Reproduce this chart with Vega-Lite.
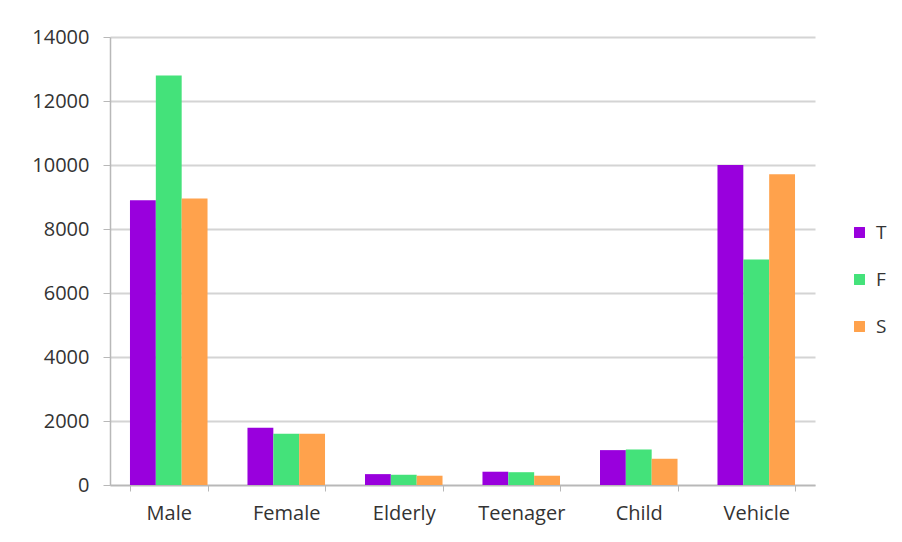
{
  "$schema": "https://vega.github.io/schema/vega-lite/v6.json",
  "autosize": {"type": "none"},
  "padding": {"left": 110, "top": 37, "right": 87, "bottom": 57},
  "width": 705,
  "height": 448,
  "background": "white",
  "data": {
    "values": [
      {"category": "Male", "series": "T", "value": 8900},
      {"category": "Male", "series": "F", "value": 12800},
      {"category": "Male", "series": "S", "value": 8950},
      {"category": "Female", "series": "T", "value": 1790},
      {"category": "Female", "series": "F", "value": 1600},
      {"category": "Female", "series": "S", "value": 1600},
      {"category": "Elderly", "series": "T", "value": 340},
      {"category": "Elderly", "series": "F", "value": 320},
      {"category": "Elderly", "series": "S", "value": 290},
      {"category": "Teenager", "series": "T", "value": 415},
      {"category": "Teenager", "series": "F", "value": 400},
      {"category": "Teenager", "series": "S", "value": 290},
      {"category": "Child", "series": "T", "value": 1090},
      {"category": "Child", "series": "F", "value": 1110},
      {"category": "Child", "series": "S", "value": 820},
      {"category": "Vehicle", "series": "T", "value": 10000},
      {"category": "Vehicle", "series": "F", "value": 7050},
      {"category": "Vehicle", "series": "S", "value": 9710}
    ]
  },
  "mark": {"type": "bar"},
  "encoding": {
    "x": {
      "field": "category",
      "type": "nominal",
      "sort": ["Male", "Female", "Elderly", "Teenager", "Child", "Vehicle"],
      "scale": {"paddingInner": 0.34, "paddingOuter": 0.17},
      "axis": {
        "title": null,
        "labelAngle": 0,
        "tickBand": "extent",
        "tickSize": 6,
        "tickColor": "#b8b8b8",
        "domainColor": "#b8b8b8",
        "domainWidth": 1.5,
        "labelFont": "Open Sans",
        "labelFontSize": 20,
        "labelColor": "#333333",
        "labelPadding": 12,
        "grid": false
      }
    },
    "xOffset": {
      "field": "series",
      "type": "nominal",
      "sort": ["T", "F", "S"],
      "scale": {"paddingInner": 0, "paddingOuter": 0}
    },
    "y": {
      "field": "value",
      "type": "quantitative",
      "scale": {"domain": [0, 14000], "nice": false},
      "axis": {
        "title": null,
        "values": [0, 2000, 4000, 6000, 8000, 10000, 12000, 14000],
        "format": "d",
        "tickSize": 7,
        "tickColor": "#b8b8b8",
        "domainColor": "#b8b8b8",
        "domainWidth": 1.5,
        "gridColor": "#d4d4d4",
        "gridWidth": 2,
        "labelFont": "Open Sans",
        "labelFontSize": 20,
        "labelColor": "#333333",
        "labelPadding": 14
      }
    },
    "color": {
      "field": "series",
      "type": "nominal",
      "sort": ["T", "F", "S"],
      "scale": {"domain": ["T", "F", "S"], "range": ["#9900DD", "#44E27A", "#FFA24C"]},
      "legend": {
        "title": null,
        "orient": "none",
        "legendX": 740,
        "legendY": 186,
        "symbolType": "square",
        "symbolSize": 120,
        "symbolStrokeWidth": 0,
        "labelFont": "Open Sans",
        "labelFontSize": 19,
        "labelColor": "#333333",
        "rowPadding": 27,
        "labelOffset": 7
      }
    }
  },
  "config": {"view": {"stroke": null}}
}
